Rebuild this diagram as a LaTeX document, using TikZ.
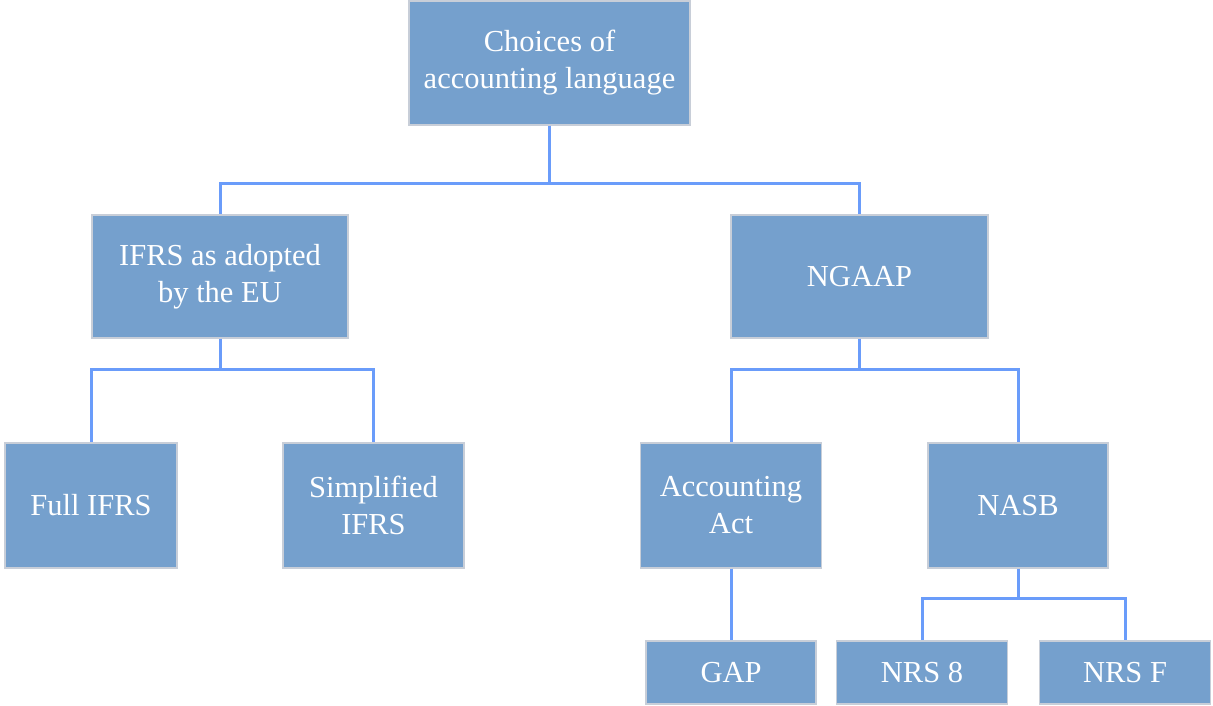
\documentclass[tikz,border=0pt]{standalone}
\usepackage{fontspec}
\setmainfont{Liberation Serif}
\definecolor{boxfill}{RGB}{117,160,205}
\definecolor{boxline}{RGB}{200,206,216}
\definecolor{linkc}{RGB}{106,156,250}
\tikzset{
  box/.style={draw=boxline, line width=1.2pt, fill=boxfill, text=white, align=center,
    inner sep=0pt, font=\fontsize{30.5}{37}\selectfont},
  link/.style={draw=linkc, line width=3pt}
}
\begin{document}
\begin{tikzpicture}[x=1pt,y=-1pt]
\useasboundingbox (0,0) rectangle (1213,705);
% boxes: center and size from pixel coordinates
\node[box, minimum width=281pt, minimum height=124pt] (root) at (549.5,63) {Choices of\\accounting language};
\node[box, minimum width=256pt, minimum height=123pt] (ifrs) at (220,276.5) {IFRS as adopted\\by the EU};
\node[box, minimum width=257pt, minimum height=123pt] (ngaap) at (859.5,276.5) {NGAAP};
\node[box, minimum width=172pt, minimum height=125pt] (full) at (91,505.5) {Full IFRS};
\node[box, minimum width=181pt, minimum height=125pt] (simp) at (373.5,505.5) {Simplified\\IFRS};
\node[box, minimum width=181pt, minimum height=125pt] (act) at (731,505.5) {Accounting\\Act};
\node[box, minimum width=180pt, minimum height=125pt] (nasb) at (1018,505.5) {NASB};
\node[box, minimum width=170pt, minimum height=63pt] (gap) at (731,672.5) {GAP};
\node[box, minimum width=171pt, minimum height=63pt] (nrs8) at (922,672.5) {NRS 8};
\node[box, minimum width=171pt, minimum height=63pt] (nrsf) at (1125,672.5) {NRS F};
% connectors
\coordinate (j1) at (549.5,183);
\coordinate (j2) at (220,369);
\coordinate (j3) at (859.5,369);
\coordinate (j4) at (1018,598);
\draw[link] (root.south) -- (j1);
\draw[link] (j1) -| (ifrs.north);
\draw[link] (j1) -| (ngaap.north);
\draw[link] (ifrs.south) -- (j2);
\draw[link] (j2) -| (full.north);
\draw[link] (j2) -| (simp.north);
\draw[link] (ngaap.south) -- (j3);
\draw[link] (j3) -| (act.north);
\draw[link] (j3) -| (nasb.north);
\draw[link] (act.south) -- (gap.north);
\draw[link] (nasb.south) -- (j4);
\draw[link] (j4) -| (nrs8.north);
\draw[link] (j4) -| (nrsf.north);
\end{tikzpicture}
\end{document}
